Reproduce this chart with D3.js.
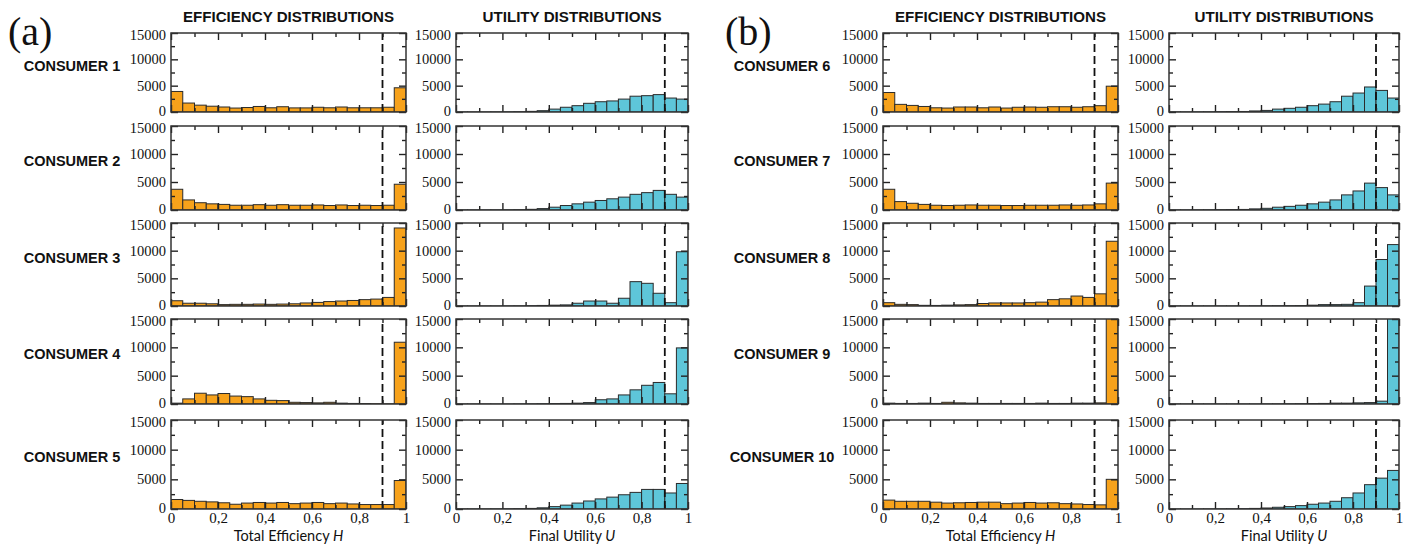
<!DOCTYPE html>
<html><head><meta charset="utf-8">
<script src="https://cdn.jsdelivr.net/npm/d3@7"></script>
<style>body{margin:0;background:#fff}svg{display:block}</style>
</head><body>
<svg id="c" width="1408" height="546"></svg>
<script>
// ---------- DATA ----------
const binStarts = [0,0.05,0.1,0.15,0.2,0.25,0.3,0.35,0.4,0.45,0.5,0.55,0.6,0.65,0.7,0.75,0.8,0.85,0.9,0.95];
const binEnds   = [0.05,0.1,0.15,0.2,0.25,0.3,0.35,0.4,0.45,0.5,0.55,0.6,0.65,0.7,0.75,0.8,0.85,0.9,0.95,1];
const yMajorTicks = [0,5000,10000,15000];
const yMinorTicks = [2500,7500,12500];
const xMajorTicks = [0,0.2,0.4,0.6,0.8,1];
const xMinorTicks = [0.1,0.3,0.5,0.7,0.9];
const xTickLabels = ["0","0,2","0,4","0,6","0,8","1"];
const threshold = 0.9;
const consumers = ["CONSUMER 1","CONSUMER 2","CONSUMER 3","CONSUMER 4","CONSUMER 5",
                   "CONSUMER 6","CONSUMER 7","CONSUMER 8","CONSUMER 9","CONSUMER 10"];

const eff1 = [3900,1700,1300,1100,950,750,850,1050,800,1000,780,780,900,800,950,800,800,800,900,4600];
const eff2 = [3700,1800,1300,1100,1000,850,850,950,850,950,850,850,900,800,900,800,850,800,850,4600];
const eff3 = [950,500,500,400,250,300,300,350,300,350,400,550,650,800,900,1000,1150,1250,1550,14100];
const eff4 = [150,900,1900,1600,1850,1400,1300,900,650,600,300,250,200,300,150,100,80,50,30,10900];
const eff5 = [1600,1450,1300,1200,1050,800,1000,1100,1000,1100,900,1000,1100,900,1000,850,750,750,750,4800];
const eff6 = [3700,1450,1250,1050,800,750,950,950,800,950,750,900,950,900,1000,1000,900,1000,1200,4900];
const eff7 = [3700,1500,1200,1000,850,800,850,900,850,850,800,800,850,850,850,900,850,900,1100,4800];
const eff8 = [600,300,250,120,100,150,200,250,450,550,550,550,600,700,1150,1300,1800,1550,2200,11700];
const eff9 = [150,100,100,150,100,300,200,150,100,100,100,100,100,150,100,100,150,150,200,16000];
const eff10 = [1500,1300,1300,1300,1150,1000,1050,1100,1150,1150,900,1000,1100,1000,1050,900,850,750,700,5000];

const util1 = [20,20,20,30,40,60,120,250,550,900,1200,1650,1950,2100,2450,3000,3100,3300,2650,2450];
const util2 = [20,20,20,30,40,60,120,250,500,800,1100,1400,1700,2000,2300,2800,3100,3500,2800,2300];
const util3 = [10,10,10,10,20,30,60,100,150,200,500,900,900,500,1400,4400,4100,2300,600,9800];
const util4 = [10,10,10,10,10,20,30,50,80,100,150,250,750,900,1600,2500,3300,3800,1800,9900];
const util5 = [20,20,20,30,40,60,100,200,400,650,1000,1350,1700,2000,2400,2800,3300,3300,2700,4300];
const util6 = [20,20,30,40,60,80,100,200,300,550,700,900,1200,1500,1950,3000,3600,4750,4100,2650];
const util7 = [20,20,30,40,60,80,100,200,300,500,650,850,1100,1400,1800,2700,3400,4800,4000,2700];
const util8 = [10,10,10,10,10,10,10,20,30,50,60,80,150,250,250,300,600,3600,8400,11100];
const util9 = [10,10,10,10,10,10,10,10,20,30,40,60,80,100,150,150,200,250,500,16000];
const util10 = [10,10,10,20,30,40,60,100,170,290,400,570,800,1000,1300,1900,2700,4100,5200,6500];

const effSeries = [eff1,eff2,eff3,eff4,eff5,eff6,eff7,eff8,eff9,eff10];
const utilSeries = [util1,util2,util3,util4,util5,util6,util7,util8,util9,util10];

// ---------- LAYOUT ----------
const rowTop = [33,126,223,319,420];
const rowBot = [112,210,306,404,509];
const groups = [
  {tag:"(a)", tagX:8, eff:[171,406], util:[456,688], labelX:72, first:0},
  {tag:"(b)", tagX:725, eff:[883,1118], util:[1169,1399], labelX:782, first:5}
];
const ORANGE = "#F7A21B", CYAN = "#5EC6D9";
const svg = d3.select("#c");
const serif = "'Liberation Serif','DejaVu Serif',serif";
const sans = "'Liberation Sans',Arial,sans-serif";
let clipN = 0;

function panel(xr, yTop, yBot, values, fill, bottomRow, title) {
  const x = d3.scaleLinear().domain([0,1]).range(xr);
  const y = d3.scaleLinear().domain([0,15000]).range([yBot,yTop]);
  const g = svg.append("g");
  const id = "clip" + (clipN++);
  g.append("clipPath").attr("id", id).append("rect")
    .attr("x", xr[0]).attr("y", yTop).attr("width", xr[1]-xr[0]).attr("height", yBot-yTop);
  g.append("g").attr("clip-path", `url(#${id})`)
    .selectAll("rect").data(values).join("rect")
    .attr("x", (d,i) => x(binStarts[i]))
    .attr("width", (d,i) => x(binEnds[i]) - x(binStarts[i]))
    .attr("y", d => y(d))
    .attr("height", d => y(0) - y(d))
    .attr("fill", fill).attr("stroke", "#2b2b2b").attr("stroke-width", 1);

  g.append("line")
    .attr("x1", x(threshold)).attr("x2", x(threshold))
    .attr("y1", yBot).attr("y2", yTop)
    .attr("stroke", "#111").attr("stroke-width", 1.8).attr("stroke-dasharray", "8,4");

  const tickStyle = sel => {
    sel.select(".domain").remove();
    sel.selectAll(".tick line").attr("stroke", "#222").attr("stroke-width", 1.4);
  };
  // left
  g.append("g").attr("transform", `translate(${xr[0]},0)`)
    .call(d3.axisLeft(y).tickValues(yMajorTicks).tickSize(-7).tickPadding(5).tickFormat(d3.format("d")))
    .call(tickStyle)
    .call(s => s.selectAll("text").attr("font-family", serif).attr("font-size", 14.5).attr("fill", "#111")
      .attr("y", d => d === 0 ? -1.5 : (d === 15000 ? 1.5 : 0)));
  g.append("g").attr("transform", `translate(${xr[0]},0)`)
    .call(d3.axisLeft(y).tickValues(yMinorTicks).tickSize(-4).tickFormat(""))
    .call(tickStyle);
  // right
  g.append("g").attr("transform", `translate(${xr[1]},0)`)
    .call(d3.axisRight(y).tickValues(yMajorTicks).tickSize(-7).tickFormat(""))
    .call(tickStyle);
  g.append("g").attr("transform", `translate(${xr[1]},0)`)
    .call(d3.axisRight(y).tickValues(yMinorTicks).tickSize(-4).tickFormat(""))
    .call(tickStyle);
  // top
  g.append("g").attr("transform", `translate(0,${yTop})`)
    .call(d3.axisTop(x).tickValues(xMajorTicks).tickSize(-7).tickFormat(""))
    .call(tickStyle);
  g.append("g").attr("transform", `translate(0,${yTop})`)
    .call(d3.axisTop(x).tickValues(xMinorTicks).tickSize(-4).tickFormat(""))
    .call(tickStyle);
  // bottom
  g.append("g").attr("transform", `translate(0,${yBot})`)
    .call(d3.axisBottom(x).tickValues(xMajorTicks).tickSize(-7).tickPadding(3)
      .tickFormat((d,i) => bottomRow ? xTickLabels[i] : ""))
    .call(tickStyle)
    .call(s => s.selectAll("text").attr("font-family", serif).attr("font-size", 15).attr("fill", "#111"));
  g.append("g").attr("transform", `translate(0,${yBot})`)
    .call(d3.axisBottom(x).tickValues(xMinorTicks).tickSize(-4).tickFormat(""))
    .call(tickStyle);

  g.append("rect").attr("x", xr[0]).attr("y", yTop)
    .attr("width", xr[1]-xr[0]).attr("height", yBot-yTop)
    .attr("fill", "none").attr("stroke", "#333").attr("stroke-width", 1.5);

  if (bottomRow) {
    const t = g.append("text").attr("x", (xr[0]+xr[1])/2).attr("y", 541)
      .attr("text-anchor", "middle").attr("font-family", "Lato,'Open Sans',sans-serif")
      .attr("font-size", 14.5).attr("fill", "#111");
    t.append("tspan").text(title[0]);
    t.append("tspan").attr("font-style", "italic").text(title[1]);
  }
  return y;
}

groups.forEach(gr => {
  svg.append("text").attr("x", gr.tagX).attr("y", 45)
    .attr("font-family", serif).attr("font-size", 40).attr("fill", "#111").text(gr.tag);
  svg.append("text").attr("x", (gr.eff[0]+gr.eff[1])/2).attr("y", 22)
    .attr("text-anchor", "middle").attr("font-family", sans).attr("font-weight", "bold")
    .attr("font-size", 14.5).attr("textLength", 211).attr("lengthAdjust", "spacingAndGlyphs")
    .attr("fill", "#111").text("EFFICIENCY DISTRIBUTIONS");
  svg.append("text").attr("x", (gr.util[0]+gr.util[1])/2).attr("y", 22)
    .attr("text-anchor", "middle").attr("font-family", sans).attr("font-weight", "bold")
    .attr("font-size", 14.5).attr("textLength", 179).attr("lengthAdjust", "spacingAndGlyphs")
    .attr("fill", "#111").text("UTILITY DISTRIBUTIONS");
  for (let r = 0; r < 5; r++) {
    const k = gr.first + r;
    const last = r === 4;
    const y = panel(gr.eff, rowTop[r], rowBot[r], effSeries[k], ORANGE, last, ["Total Efficiency ", "H"]);
    panel(gr.util, rowTop[r], rowBot[r], utilSeries[k], CYAN, last, ["Final Utility ", "U"]);
    svg.append("text").attr("x", gr.labelX).attr("y", y(10000) + 12)
      .attr("text-anchor", "middle").attr("font-family", sans).attr("font-weight", "bold")
      .attr("font-size", 14.5).attr("fill", "#111").text(consumers[k]);
  }
});
</script>
</body></html>
